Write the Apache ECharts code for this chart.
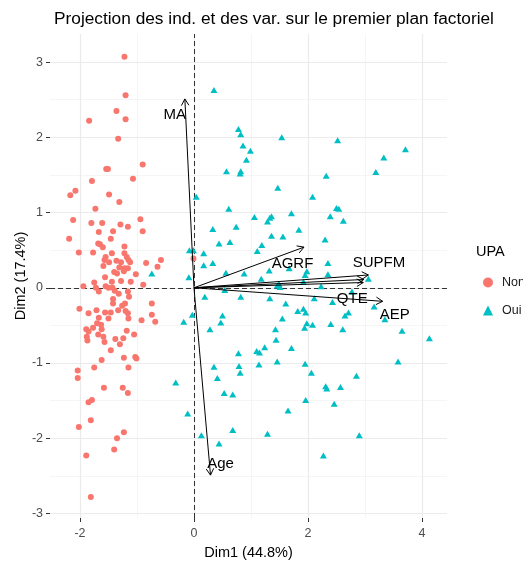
<!DOCTYPE html>
<html>
<head>
<meta charset="utf-8">
<script src="https://cdn.jsdelivr.net/npm/echarts@6/dist/echarts.min.js"></script>
<style>html,body{margin:0;padding:0;background:#fff}#c{width:523px;height:565px}</style>
</head>
<body>
<div id="c"></div>
<script>
// ---- data ----
const xTicks = [-2, 0, 2, 4];
const yTicks = [-3, -2, -1, 0, 1, 2, 3];
const groupNames = ['Non', 'Oui'];

const nonPoints = [
 [-1.22,3.07],[-1.20,2.56],[-1.36,2.35],[-1.20,2.24],[-1.84,2.22],[-1.33,1.98],[-0.90,1.64],[-1.54,1.58],[-1.51,1.58],
 [-1.07,1.45],[-1.79,1.42],[-2.08,1.29],[-2.17,1.23],[-1.49,1.24],[-1.31,1.14],[-1.73,1.05],[-2.12,0.90],[-0.94,0.91],
 [-1.80,0.86],[-1.61,0.86],[-1.29,0.84],[-1.16,0.81],[-1.67,0.74],[-1.42,0.75],[-0.90,0.75],[-2.19,0.65],[-1.46,0.65],
 [-1.68,0.59],[-1.65,0.58],[-1.60,0.54],[-1.22,0.55],[-2.02,0.47],[-1.77,0.47],[-1.44,0.46],[-1.22,0.46],[-1.18,0.41],
 [-1.55,0.41],[-1.57,0.37],[-1.15,0.37],[-0.58,0.37],[-1.49,0.34],[-1.36,0.36],[-1.28,0.34],[-1.12,0.34],[-1.59,0.29],
 [-1.31,0.27],[-1.22,0.26],[-1.16,0.26],[-0.84,0.33],[-0.64,0.28],[-0.01,0.39],
 [-1.56,0.14],[-1.35,0.19],[-1.40,0.21],[-1.23,0.22],[-1.02,0.18],[-1.11,0.08],[-1.28,0.09],[-1.44,0.08],[-1.75,0.07],
 [-1.94,0.02],[-0.89,0.04],[-1.72,0.00],[-1.55,0.02],[-1.50,0.00],[-1.43,0.00],[-1.67,-0.05],[-1.39,-0.04],[-1.32,-0.08],
 [-1.16,-0.05],[-1.14,-0.12],[-1.42,-0.15],[-1.42,-0.21],[-1.21,-0.21],[-1.26,-0.24],[-0.74,-0.21],[-2.01,-0.28],[-1.71,-0.30],
 [-1.56,-0.33],[-1.46,-0.33],[-1.33,-0.30],[-1.20,-0.31],[-1.16,-0.34],[-0.74,-0.36],[-1.85,-0.34],[-1.67,-0.40],[-1.50,-0.41],
 [-1.15,-0.41],[-0.92,-0.43],[-0.68,-0.45],[-1.70,-0.47],[-1.63,-0.49],[-1.77,-0.53],[-1.62,-0.55],[-1.89,-0.55],[-1.85,-0.58],
 [-1.18,-0.57],[-1.05,-0.62],[-1.68,-0.62],[-1.88,-0.65],[-1.59,-0.65],[-1.87,-0.70],[-1.57,-0.72],[-1.38,-0.68],[-1.24,-0.67],
 [-1.30,-0.75],[-1.46,-0.83],[-1.23,-0.93],[-1.03,-0.92],[-1.01,-0.94],[-1.62,-0.96],[-1.15,-1.06],[-1.75,-1.06],[-2.04,-1.10],
 [-2.04,-1.20],[-1.58,-1.33],[-1.25,-1.33],[-1.16,-1.40],[-1.79,-1.49],[-1.85,-1.52],[-1.81,-1.76],[-2.02,-1.85],[-1.23,-1.92],
 [-1.35,-2.00],[-1.40,-2.15],[-1.89,-2.23],[-1.81,-2.78]
];

const ouiPoints = [
 [-0.08,0.50],[-0.74,0.19],[-0.09,0.14],[-0.18,-0.45],[-0.32,-1.26],[-0.11,-1.67],[-0.03,-0.36],
 [0.35,2.63],[0.78,2.11],[0.82,2.04],[1.54,2.00],[2.52,1.96],[3.71,1.84],[0.86,1.89],[0.99,1.82],[0.92,1.70],[3.33,1.73],
 [0.57,1.55],[0.82,1.55],[0.81,1.52],[3.19,1.54],[2.32,1.49],[1.47,1.33],[0.04,1.21],[2.08,1.21],[0.61,1.05],[2.50,1.06],
 [2.54,1.05],[1.71,0.99],[1.06,0.94],[1.36,0.95],[1.33,0.93],[1.29,0.88],[2.39,0.95],[2.62,0.89],[0.74,0.81],[0.33,0.78],
 [1.84,0.77],[1.36,0.69],[1.56,0.68],[2.30,0.64],[0.44,0.59],[0.63,0.61],[1.19,0.57],[1.11,0.49],[0.17,0.46],[-0.01,0.50],
 [0.17,0.30],[0.33,0.33],[2.35,0.33],[0.56,0.20],[0.88,0.19],[1.32,0.23],[1.67,0.26],[1.98,0.22],[1.95,0.17],[2.35,0.18],
 [1.18,0.12],[1.49,0.05],[1.46,0.03],[1.51,0.01],[1.92,0.08],[2.23,0.02],[3.06,0.12],
 [0.19,-0.12],[0.54,-0.03],[0.82,-0.12],[1.33,-0.14],[1.61,-0.21],[2.11,-0.14],[2.43,-0.19],[2.77,-0.05],[3.16,-0.25],
 [0.50,-0.37],[0.47,-0.46],[1.82,-0.31],[1.92,-0.28],[1.96,-0.33],[2.65,-0.37],[2.71,-0.33],[1.55,-0.41],[1.98,-0.47],
 [2.08,-0.49],[1.94,-0.53],[2.40,-0.48],[2.61,-0.55],[3.35,-0.42],[0.28,-0.55],[1.43,-0.55],[3.65,-0.57],[4.13,-0.67],
 [1.44,-0.69],[1.24,-0.79],[1.71,-0.80],[1.10,-0.84],[1.15,-0.86],[0.78,-0.87],[1.46,-0.98],[1.95,-1.01],[1.14,-1.02],
 [3.58,-0.98],[0.35,-1.05],[0.79,-1.04],[0.81,-1.13],[2.06,-1.13],[0.41,-1.20],[2.85,-1.17],[2.31,-1.31],[2.33,-1.34],
 [2.57,-1.32],[0.53,-1.40],[0.68,-1.42],[1.96,-1.49],[2.46,-1.54],[1.65,-1.63],[0.68,-1.89],[1.29,-1.94],[2.90,-1.96],
 [0.13,-1.96],[0.44,-2.07],[2.27,-2.23]
];

const varNames = ['MA', 'Age', 'AGRF', 'SUPFM', '', 'QTE', 'AEP'];
const varX = [-0.16, 0.29, 1.93, 3.06, 2.98, 2.97, 3.31];
const varY = [2.51, -2.49, 0.54, 0.17, 0.11, 0.07, -0.18];

// ---- styles ----
const FONT = "'Liberation Sans', Arial, sans-serif";
const labelOffsets = { MA: [-10, 16], Age: [10, -11], AGRF: [-11.5, 16.5], SUPFM: [10.5, -12], QTE: [-11, 16], AEP: [12, 14] };
const RED = '#F8766D', CYAN = '#00BFC4';

const xMinor = xTicks.slice(1).map((v, i) => (v + xTicks[i]) / 2);
const yMinor = yTicks.slice(1).map((v, i) => (v + yTicks[i]) / 2);
const majorStyle = { color: '#ebebeb', width: 1.2, type: 'solid' };
const minorStyle = { color: '#f3f3f3', width: 0.8, type: 'solid' };
const gridLines = []
  .concat(xMinor.map(v => ({ xAxis: v, lineStyle: minorStyle })))
  .concat(yMinor.map(v => ({ yAxis: v, lineStyle: minorStyle })))
  .concat(xTicks.map(v => ({ xAxis: v, lineStyle: majorStyle })))
  .concat(yTicks.map(v => ({ yAxis: v, lineStyle: majorStyle })));

const axisCommon = {
  type: 'value',
  splitLine: { show: false },
  axisLine: { show: true, onZero: false, lineStyle: { color: 'rgba(0,0,0,0)' } },
  nameLocation: 'middle',
  nameMoveOverlap: false,
  nameTextStyle: { fontSize: 14.5, color: '#000', fontFamily: FONT }
};

const chart = echarts.init(document.getElementById('c'), null, { renderer: 'canvas' });
chart.setOption({
  animation: false,
  backgroundColor: '#fff',
  textStyle: { fontFamily: FONT },
  title: [
    { text: 'Projection des ind. et des var. sur le premier plan factoriel', left: 49, top: 6,
      textStyle: { fontFamily: FONT, fontSize: 17.3, fontWeight: 'normal', color: '#000' } },
    { text: 'UPA', left: 471, top: 239,
      textStyle: { fontFamily: FONT, fontSize: 14.5, fontWeight: 'normal', color: '#000' } }
  ],
  legend: {
    orient: 'vertical', left: 478, top: 271, itemWidth: 10, itemHeight: 10, itemGap: 15,
    textStyle: { fontFamily: FONT, fontSize: 12.5, color: '#1a1a1a', padding: [0, 0, 0, 4] },
    data: [{ name: groupNames[0], icon: 'circle' }, { name: groupNames[1], icon: 'triangle' }]
  },
  grid: { left: 50, right: 76, top: 34, bottom: 46, containLabel: false },
  xAxis: Object.assign({}, axisCommon, {
    min: -2.526, max: 4.439,
    axisTick: { show: true, length: 4, customValues: xTicks, lineStyle: { color: '#333', width: 1 } },
    axisLabel: { customValues: xTicks, margin: 9, fontSize: 12.5, color: '#4d4d4d', fontFamily: FONT },
    name: 'Dim1 (44.8%)', nameGap: 27
  }),
  yAxis: Object.assign({}, axisCommon, {
    min: -3.06, max: 3.373,
    axisTick: { show: true, length: 4, customValues: yTicks, lineStyle: { color: '#333', width: 1 } },
    axisLabel: { customValues: yTicks, margin: 7, fontSize: 12.5, color: '#4d4d4d', fontFamily: FONT },
    name: 'Dim2 (17.4%)', nameGap: 22
  }),
  series: [
    { type: 'scatter', name: '_grid', data: [], z: 0, silent: true,
      markLine: { silent: true, z: 0, symbol: ['none', 'none'], label: { show: false }, animation: false, data: gridLines } },
    { type: 'scatter', name: '_zero', data: [], z: 1, silent: true,
      markLine: { silent: true, z: 1, symbol: ['none', 'none'], label: { show: false }, animation: false,
        lineStyle: { color: '#333', width: 1, type: [5, 3] },
        data: [{ xAxis: 0 }, { yAxis: 0 }] } },
    { type: 'scatter', name: groupNames[0], data: nonPoints, symbol: 'circle', symbolSize: 6, z: 3,
      itemStyle: { color: RED, opacity: 1 } },
    { type: 'scatter', name: groupNames[1], data: ouiPoints, symbol: 'triangle', symbolSize: [7, 6], z: 3,
      itemStyle: { color: CYAN, opacity: 1 } },
    { type: 'custom', name: '_vars', z: 5, silent: true,
      data: varX.map((x, i) => [x, varY[i]]),
      encode: { x: 0, y: 1 },
      renderItem: function (params, api) {
        const p0 = api.coord([0, 0]);
        const p1 = api.coord([api.value(0), api.value(1)]);
        const ang = Math.atan2(p1[1] - p0[1], p1[0] - p0[0]);
        const L = 7.5, a = Math.PI / 6;
        const h1 = [p1[0] - L * Math.cos(ang - a), p1[1] - L * Math.sin(ang - a)];
        const h2 = [p1[0] - L * Math.cos(ang + a), p1[1] - L * Math.sin(ang + a)];
        const nm = varNames[params.dataIndex];
        const children = [
          { type: 'line', shape: { x1: p0[0], y1: p0[1], x2: p1[0], y2: p1[1] }, style: { stroke: '#000', lineWidth: 1 } },
          { type: 'polyline', shape: { points: [h1, p1, h2] }, style: { stroke: '#000', fill: null, lineWidth: 1 } }
        ];
        if (nm) {
          const off = labelOffsets[nm] || [0, 0];
          children.push({ type: 'text', x: p1[0] + off[0], y: p1[1] + off[1],
            style: { text: nm, fontSize: 15, fontFamily: FONT, fill: '#000', align: 'center', verticalAlign: 'middle' } });
        }
        return { type: 'group', children: children };
      }
    }
  ]
});
</script>
</body>
</html>
